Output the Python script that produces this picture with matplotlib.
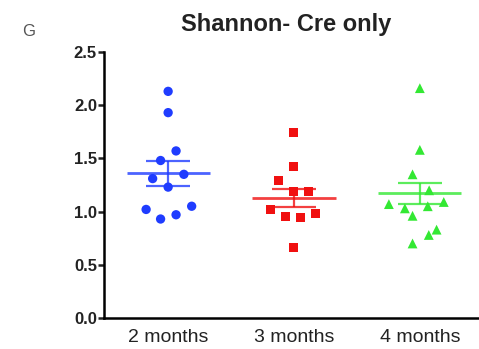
"""Shannon diversity, Cre only: dot plot with mean and SEM per age group."""

import matplotlib

matplotlib.use("Agg")
import matplotlib.pyplot as plt

plt.rcParams["font.family"] = ["Liberation Sans", "DejaVu Sans"]

groups = ["2 months", "3 months", "4 months"]

shannon_2m = [2.13, 1.93, 1.57, 1.48, 1.35, 1.31, 1.23, 1.05, 1.02, 0.97, 0.93]
shannon_3m = [1.74, 1.42, 1.29, 1.19, 1.19, 1.02, 0.95, 0.94, 0.98, 0.66]
shannon_4m = [2.16, 1.58, 1.35, 1.20, 1.07, 1.03, 1.05, 1.09, 0.96, 0.83, 0.78, 0.70]

# horizontal spread of the points inside each column (category units)
spread_2m = [0.0, 0.0, 0.063, -0.06, 0.125, -0.123, 0.0, 0.187, -0.175, 0.063, -0.06]
spread_3m = [0.0, 0.0, -0.125, 0.0, 0.113, -0.185, -0.071, 0.048, 0.172, 0.0]
spread_4m = [0.0, 0.0, -0.058, 0.074, -0.246, -0.119, 0.063, 0.19, -0.058, 0.133, 0.071, -0.058]

group_means = [1.36, 1.13, 1.17]
group_sems = [0.12, 0.085, 0.095]

y_ticks = [0.0, 0.5, 1.0, 1.5, 2.0, 2.5]

values = [shannon_2m, shannon_3m, shannon_4m]
spreads = [spread_2m, spread_3m, spread_4m]
colors = ["#1f3cff", "#f01010", "#33e833"]
markers = ["o", "s", "^"]
sizes = [45, 42, 50]

fig = plt.figure(figsize=(4.79, 3.49), dpi=100)
ax = fig.add_axes([0.217, 0.089, 0.783, 0.762])

for i, (vals, offs) in enumerate(zip(values, spreads)):
    xs = [i + o for o in offs]
    ax.scatter(xs, vals, s=sizes[i], marker=markers[i], color=colors[i],
               edgecolors="none", zorder=3)
    m, se = group_means[i], group_sems[i]
    ax.hlines(m, i - 0.33, i + 0.33, color=colors[i], lw=2, alpha=0.8, zorder=2)
    ax.hlines([m - se, m + se], i - 0.175, i + 0.175, color=colors[i], lw=1.6,
              alpha=0.8, zorder=2)
    ax.vlines(i, m - se, m + se, color=colors[i], lw=1.6, alpha=0.8, zorder=2)

ax.set_xlim(-0.51, 2.47)
ax.set_ylim(0, 2.5)
ax.set_yticks(y_ticks)
ax.set_yticklabels([f"{t:.1f}" for t in y_ticks], fontweight="bold", fontsize=12)
ax.set_xticks(range(len(groups)))
ax.set_xticklabels(groups, fontsize=14)

for side in ["top", "right"]:
    ax.spines[side].set_visible(False)
for side in ["left", "bottom"]:
    ax.spines[side].set_linewidth(1.8)
ax.tick_params(axis="y", length=4, width=1.8, pad=1, colors="#222222")
ax.tick_params(axis="x", length=0, pad=8, colors="#222222")

fig.text(0.598, 0.93, "Shannon- Cre only", ha="center", va="center",
         fontsize=17, fontweight="bold", color="#222222")
fig.text(0.06, 0.91, "G", ha="center", va="center", fontsize=12, color="#555555")

fig.savefig("out.png", dpi=100)
